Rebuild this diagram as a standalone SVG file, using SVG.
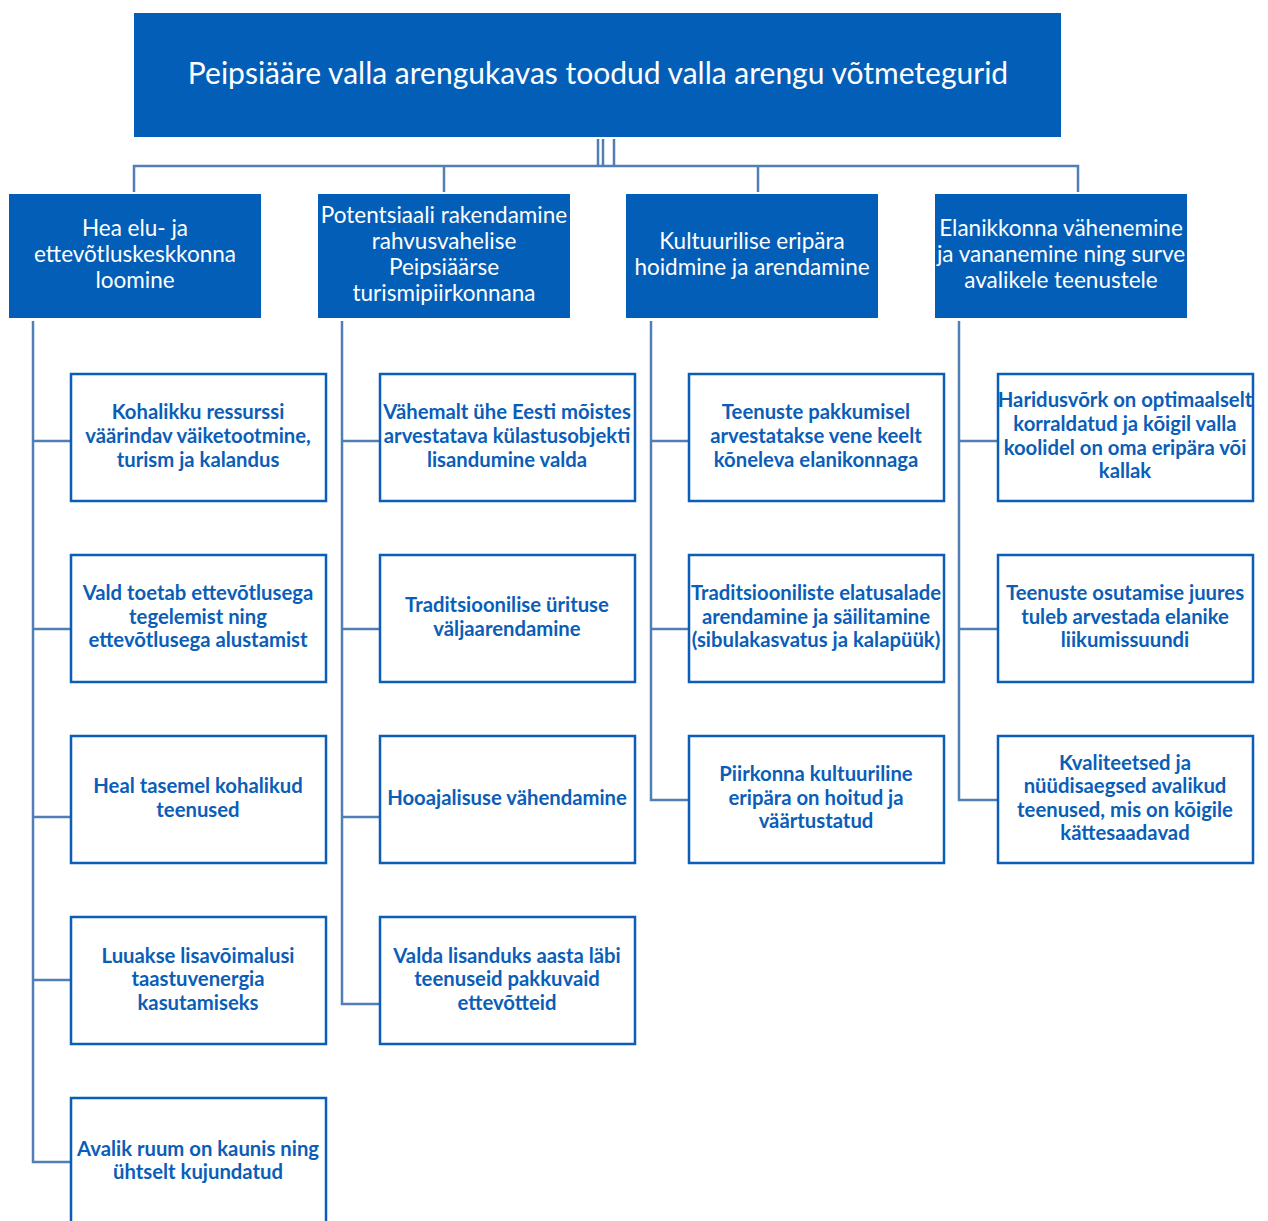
<svg xmlns="http://www.w3.org/2000/svg" width="1268" height="1221" viewBox="0 0 1268 1221">
<style>
.top{fill:#035EB8}
.t1{font-family:Lato,"Noto Sans",sans-serif;font-size:22.5px;fill:#fff;text-anchor:middle}
.t0{font-family:Lato,"Noto Sans",sans-serif;font-size:30px;fill:#fff;text-anchor:middle}
.box{fill:#fff;stroke:#0A5EB8;stroke-width:2.5}
.t2{font-family:Lato,"Noto Sans",sans-serif;font-size:20.3px;font-weight:bold;fill:#0A5EB8;text-anchor:middle}
.c{stroke:#4F7FB4;stroke-width:2.5;fill:none}
</style>
<rect width="1268" height="1221" fill="#fff"/>
<g id="connectors">
<path class="c" d="M598 139V166M603 139V166M614 139V166"/>
<path class="c" d="M134 192V166H1078V192M444 166V192M758 166V192"/>
<path class="c" d="M33 321V1162H70M33 441H70M33 629H70M33 817H70M33 980H70"/>
<path class="c" d="M342 321V1004H379M342 441H379M342 629H379M342 817H379"/>
<path class="c" d="M651 321V800H688M651 441H688M651 629H688"/>
<path class="c" d="M959 321V800H997M959 441H997M959 629H997"/>
</g>
<g id="root"><rect class="top" x="134" y="13" width="927" height="124"/><text class="t0" x="598" y="84">Peipsiääre valla arengukavas toodud valla arengu võtmetegurid</text></g>
<g id="h1"><rect class="top" x="9" y="194" width="252" height="124"/><text class="t1" x="135" y="236">Hea elu- ja</text><text class="t1" x="135" y="262">ettevõtluskeskkonna</text><text class="t1" x="135" y="288">loomine</text></g>
<g id="h2"><rect class="top" x="318" y="194" width="252" height="124"/><text class="t1" x="444" y="223">Potentsiaali rakendamine</text><text class="t1" x="444" y="249">rahvusvahelise</text><text class="t1" x="444" y="275">Peipsiäärse</text><text class="t1" x="444" y="301">turismipiirkonnana</text></g>
<g id="h3"><rect class="top" x="626" y="194" width="252" height="124"/><text class="t1" x="752" y="249">Kultuurilise eripära</text><text class="t1" x="752" y="275">hoidmine ja arendamine</text></g>
<g id="h4"><rect class="top" x="935" y="194" width="252" height="124"/><text class="t1" x="1061" y="236">Elanikkonna vähenemine</text><text class="t1" x="1061" y="262">ja vananemine ning surve</text><text class="t1" x="1061" y="288">avalikele teenustele</text></g>

<g id="n11"><rect class="box" x="71" y="374" width="255" height="127"/><text class="t2" x="198" y="419">Kohalikku ressurssi</text><text class="t2" x="198" y="443">väärindav väiketootmine,</text><text class="t2" x="198" y="467">turism ja kalandus</text></g>
<g id="n12"><rect class="box" x="71" y="555" width="255" height="127"/><text class="t2" x="198" y="600">Vald toetab ettevõtlusega</text><text class="t2" x="198" y="624">tegelemist ning</text><text class="t2" x="198" y="647">ettevõtlusega alustamist</text></g>
<g id="n13"><rect class="box" x="71" y="736" width="255" height="127"/><text class="t2" x="198" y="793">Heal tasemel kohalikud</text><text class="t2" x="198" y="817">teenused</text></g>
<g id="n14"><rect class="box" x="71" y="917" width="255" height="127"/><text class="t2" x="198" y="963">Luuakse lisavõimalusi</text><text class="t2" x="198" y="986">taastuvenergia</text><text class="t2" x="198" y="1010">kasutamiseks</text></g>
<g id="n15"><rect class="box" x="71" y="1098" width="255" height="140"/><text class="t2" x="198" y="1156">Avalik ruum on kaunis ning</text><text class="t2" x="198" y="1179">ühtselt kujundatud</text></g>

<g id="n21"><rect class="box" x="380" y="374" width="255" height="127"/><text class="t2" x="507" y="419">Vähemalt ühe Eesti mõistes</text><text class="t2" x="507" y="443">arvestatava külastusobjekti</text><text class="t2" x="507" y="467">lisandumine valda</text></g>
<g id="n22"><rect class="box" x="380" y="555" width="255" height="127"/><text class="t2" x="507" y="612">Traditsioonilise ürituse</text><text class="t2" x="507" y="636">väljaarendamine</text></g>
<g id="n23"><rect class="box" x="380" y="736" width="255" height="127"/><text class="t2" x="507" y="805">Hooajalisuse vähendamine</text></g>
<g id="n24"><rect class="box" x="380" y="917" width="255" height="127"/><text class="t2" x="507" y="963">Valda lisanduks aasta läbi</text><text class="t2" x="507" y="986">teenuseid pakkuvaid</text><text class="t2" x="507" y="1010">ettevõtteid</text></g>

<g id="n31"><rect class="box" x="689" y="374" width="255" height="127"/><text class="t2" x="816" y="419">Teenuste pakkumisel</text><text class="t2" x="816" y="443">arvestatakse vene keelt</text><text class="t2" x="816" y="467">kõneleva elanikonnaga</text></g>
<g id="n32"><rect class="box" x="689" y="555" width="255" height="127"/><text class="t2" x="816" y="600">Traditsiooniliste elatusalade</text><text class="t2" x="816" y="624">arendamine ja säilitamine</text><text class="t2" x="816" y="647">(sibulakasvatus ja kalapüük)</text></g>
<g id="n33"><rect class="box" x="689" y="736" width="255" height="127"/><text class="t2" x="816" y="781">Piirkonna kultuuriline</text><text class="t2" x="816" y="805">eripära on hoitud ja</text><text class="t2" x="816" y="828">väärtustatud</text></g>

<g id="n41"><rect class="box" x="998" y="374" width="255" height="127"/><text class="t2" x="1125" y="407">Haridusvõrk on optimaalselt</text><text class="t2" x="1125" y="431">korraldatud ja kõigil valla</text><text class="t2" x="1125" y="455">koolidel on oma eripära või</text><text class="t2" x="1125" y="478">kallak</text></g>
<g id="n42"><rect class="box" x="998" y="555" width="255" height="127"/><text class="t2" x="1125" y="600">Teenuste osutamise juures</text><text class="t2" x="1125" y="624">tuleb arvestada elanike</text><text class="t2" x="1125" y="647">liikumissuundi</text></g>
<g id="n43"><rect class="box" x="998" y="736" width="255" height="127"/><text class="t2" x="1125" y="770">Kvaliteetsed ja</text><text class="t2" x="1125" y="793">nüüdisaegsed avalikud</text><text class="t2" x="1125" y="817">teenused, mis on kõigile</text><text class="t2" x="1125" y="840">kättesaadavad</text></g>
</svg>
